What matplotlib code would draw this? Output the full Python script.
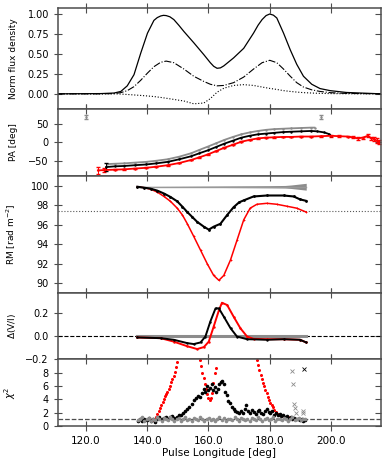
import numpy as np
import matplotlib
matplotlib.use("Agg")
import matplotlib.pyplot as plt

# ---- profile panel ----
lon_I = [110.8, 124.9, 129.2, 131.4, 133.5, 135.7, 137.9, 140.1, 142.2, 143.3, 144.4, 145.3,
         146.2, 147.4, 148.7, 150.3, 152.0, 155.2, 158.5, 160.6, 161.7, 162.8, 163.9, 165.0,
         168.2, 171.5, 174.7, 176.2, 177.5, 178.8, 180.0, 181.2, 182.3, 184.5, 186.7, 188.8,
         191.0, 193.7, 196.4, 199.7, 205.0, 216.3]
flux_I = [0, 0.003, 0.01, 0.03, 0.1, 0.24, 0.51, 0.76, 0.92, 0.955, 0.975, 0.983,
          0.98, 0.965, 0.93, 0.86, 0.78, 0.64, 0.49, 0.39, 0.345, 0.32, 0.325, 0.35,
          0.45, 0.57, 0.76, 0.86, 0.93, 0.98, 1.0, 0.985, 0.95, 0.76, 0.55, 0.37,
          0.22, 0.12, 0.066, 0.04, 0.017, 0.0]
lon_prof = [110.8, 124.9, 129.2, 131.4, 133.5, 135.7, 137.9, 140.1, 142.2, 144.4, 146.2, 148.7,
            152.0, 155.2, 158.5, 160.6, 162.8, 165.0, 168.2, 171.5, 174.7, 177.5, 180.0, 182.3,
            184.5, 186.7, 188.8, 191.0, 193.7, 196.4, 199.7, 205.0, 216.3]
flux_L = [0, 0.0, 0.003, 0.015, 0.04, 0.09, 0.17, 0.26, 0.34, 0.395, 0.41, 0.39,
          0.31, 0.22, 0.155, 0.12, 0.10, 0.105, 0.14, 0.21, 0.31, 0.39, 0.42, 0.39,
          0.31, 0.22, 0.14, 0.085, 0.05, 0.03, 0.015, 0.005, 0.0]
flux_V = [0, 0, 0, -0.003, -0.008, -0.014, -0.02, -0.027, -0.034, -0.045, -0.055, -0.07,
          -0.09, -0.125, -0.115, -0.06, 0.02, 0.07, 0.105, 0.115, 0.105, 0.085, 0.068, 0.055,
          0.04, 0.03, 0.022, 0.015, 0.01, 0.006, 0.003, 0.001, 0.0]

# ---- PA panel ----
lon_pa_k = [126.6, 129.5, 132.6, 136.0, 139.7, 143.0, 146.7, 150.5, 154.3, 157.0, 159.8, 162.5, 165.2,
            168.0, 170.7, 173.4, 176.1, 178.8, 181.5, 184.3, 187.0, 190.2, 193.5, 195.5, 197.8, 199.2, 200.0]
pa_k = [-66, -64, -63, -61, -59, -56, -52, -45, -37, -29, -21, -12, -3,
        5, 13, 18, 22, 24, 26, 28, 29, 30, 31, 30, 27, 23, 18]
lon_pa_g = [127.0, 129.5, 132.6, 136.0, 139.7, 143.0, 146.7, 150.5, 154.3, 157.0, 159.8, 162.5,
            165.2, 168.0, 170.7, 173.4, 176.1, 178.8, 181.5, 184.3, 187.0, 190.2, 193.5, 194.6]
pa_g = [-58, -57, -56, -54, -52, -49, -45, -38, -29, -20, -11, -2,
        7, 15, 22, 27, 31, 34, 36, 37, 38, 39, 40, 40]
lon_pa_r = [123.9, 126.0, 129.5, 132.6, 136.0, 139.7, 143.0, 146.7, 150.5, 154.3, 157.0, 159.8,
            162.5, 165.2, 168.0, 170.7, 173.4, 176.1, 178.8, 181.5, 184.3, 187.0, 190.2, 193.5,
            196.7, 200.0, 202.5, 205.4, 207.0, 208.7, 210.3, 212.0, 213.0, 214.0, 215.0, 215.7]
pa_r = [-75, -74, -73, -72, -70, -68, -65, -61, -55, -47, -40, -32,
        -23, -14, -6, 2, 7, 11, 13, 14, 15, 15, 16, 16,
        17, 18, 17, 16, 14, 11, 13, 18, 12, 9, 5, 2]
pa_r_err = [9, 6, 2, 1, 1, 1, 1, 1, 1, 1, 1, 1,
            1, 1, 1, 1, 1, 1, 1, 1, 1, 1, 1, 1,
            1, 2, 2, 2, 3, 3, 3, 4, 4, 5, 6, 6]
pa_outlier_lon = [120.0, 196.7]
pa_outlier = [69, 69]

# ---- RM panel ----
lon_rm_k = [136.8, 139.0, 141.1, 143.3, 145.5, 147.6, 149.8, 151.5, 153.1, 154.7, 156.3, 158.5, 160.1,
            161.7, 163.9, 166.1, 168.2, 170.0, 171.5, 174.7, 179.1, 184.5, 187.8, 189.9, 191.9]
rm_k = [99.9, 99.8, 99.7, 99.5, 99.2, 98.85, 98.4, 97.85, 97.3, 96.8, 96.3, 95.8, 95.5,
        95.8, 96.1, 97.0, 97.8, 98.3, 98.5, 98.9, 99.0, 99.0, 98.9, 98.6, 98.45]
lon_rm_r = [136.8, 139.0, 141.1, 143.3, 145.5, 147.6, 149.8, 151.5, 153.1, 155.2, 157.4, 159.6, 161.7,
            163.4, 165.0, 167.2, 169.3, 171.5, 173.6, 175.8, 179.1, 182.3, 185.6, 188.8, 191.9]
rm_r = [99.9, 99.8, 99.65, 99.35, 98.9, 98.4, 97.7, 97.0, 96.1, 94.8, 93.4, 92.0, 90.8,
        90.3, 90.8, 92.4, 94.4, 96.5, 97.7, 98.1, 98.2, 98.1, 97.9, 97.7, 97.3]
lon_rm_g = [136.8, 150.0, 160.0, 170.0, 180.0, 185.0, 187.0, 189.0, 191.0, 191.9]
rm_g = [99.9, 99.9, 99.9, 99.9, 99.9, 99.9, 99.9, 99.9, 99.9, 99.9]
rm_g_err = [0.03, 0.05, 0.07, 0.09, 0.11, 0.13, 0.18, 0.25, 0.32, 0.35]
rm_ref = 97.37

# ---- Delta V/I panel ----
lon_dv_r = [136.8, 144.4, 148.7, 153.1, 156.3, 158.5, 160.1, 161.7, 163.4, 164.4, 166.1, 168.2,
            170.4, 172.6, 174.7, 179.1, 184.5, 189.9, 191.9]
dv_r = [-0.014, -0.02, -0.05, -0.09, -0.114, -0.097, -0.05, 0.08, 0.22, 0.286, 0.266, 0.166,
        0.066, -0.006, -0.026, -0.029, -0.029, -0.034, -0.057]
lon_dv_k = [136.8, 144.4, 148.7, 153.1, 155.2, 157.4, 159.0, 160.6, 162.3, 163.4, 165.0, 167.2,
            169.3, 172.6, 179.1, 184.5, 189.9, 191.9]
dv_k = [-0.014, -0.02, -0.034, -0.063, -0.071, -0.057, -0.006, 0.123, 0.237, 0.237, 0.166, 0.066,
        -0.006, -0.029, -0.034, -0.029, -0.034, -0.057]
lon_dv_g = [136.8, 150.0, 165.0, 180.0, 191.9]
dv_g = [0.0, 0.0, 0.0, 0.0, 0.0]

# ---- chi^2 panel ----
lon_chi_r = [141.5, 142.2, 142.8, 143.3, 143.8, 144.2, 144.6, 145.0, 145.4, 145.8, 146.2, 146.6,
             147.0, 147.4, 147.8, 148.2, 148.6, 149.0, 149.4, 149.8,
             157.2, 157.6, 158.0, 158.4, 158.8, 159.2, 159.6, 160.0, 160.4, 160.8, 161.2, 161.6,
             162.0, 162.3,
             175.8, 176.2, 176.6, 177.0, 177.4, 177.8, 178.2, 178.6, 179.0, 179.4, 179.8, 180.2,
             180.6, 181.0, 181.5, 182.0, 182.6, 183.3, 184.0, 185.0, 186.0, 187.0, 188.0]
chi_r = [0.9, 1.1, 1.4, 1.8, 2.2, 2.7, 3.1, 3.6, 4.0, 4.5, 4.8, 5.2,
         5.6, 6.1, 6.6, 7.1, 7.6, 8.2, 8.9, 9.6,
         10.0, 9.0, 8.0, 7.2, 6.3, 5.6, 4.8, 4.2, 3.9, 4.2, 5.0, 6.5,
         8.0, 8.7,
         9.9, 9.2, 8.4, 7.7, 7.1, 6.5, 6.0, 5.4, 4.9, 4.4, 3.9, 3.5,
         3.1, 2.8, 2.4, 2.1, 1.8, 1.6, 1.5, 1.4, 1.3, 1.1, 1.0]
lon_chi_k = [137.0, 137.7, 138.4, 139.1, 139.8, 140.5, 141.2, 141.9, 142.6, 143.3, 144.0, 144.7,
             145.4, 146.1, 146.8, 147.5, 148.2, 148.9, 149.6, 150.3, 151.0, 151.7, 152.4, 153.1,
             153.8, 154.5, 155.2, 155.9, 156.6, 157.3, 157.9, 158.5, 159.0, 159.5, 160.0, 160.5,
             161.0, 161.5, 162.0, 162.5, 163.0, 163.5, 164.0, 164.5, 165.0, 165.5, 166.0, 166.5,
             167.0, 167.6, 168.2, 168.8, 169.4, 170.0, 170.6, 171.2, 171.8, 172.4, 173.0, 173.6,
             174.2, 174.8, 175.4, 176.0, 176.6, 177.2, 177.8, 178.4, 179.0, 179.6, 180.2, 180.8,
             181.4, 182.0, 182.6, 183.2, 183.8, 184.4, 185.0, 185.6, 186.2, 186.8, 187.4, 188.0,
             188.6, 189.2, 189.8, 190.4, 191.0, 191.6]
chi_k = [0.8, 1.0, 0.7, 1.1, 0.9, 1.2, 0.8, 1.0, 0.6, 1.1, 1.3, 1.0,
         1.2, 1.4, 1.1, 1.3, 1.5, 1.2, 1.4, 1.6, 1.7, 2.0, 2.2, 2.6,
         2.9, 3.3, 3.9, 4.2, 4.5, 4.4, 5.0, 5.6, 5.2, 6.0, 5.4, 5.8,
         6.3, 5.5, 5.9, 5.1, 5.6, 6.3, 6.6, 6.8, 6.4, 5.2, 4.6, 3.8,
         3.4, 2.9, 2.6, 2.3, 2.1, 1.9, 2.2, 2.0, 2.6, 3.1, 2.2, 1.9,
         2.4, 2.1, 1.8, 2.2, 2.4, 2.0, 1.8, 2.3, 2.5, 2.1, 1.9, 2.2,
         1.7, 1.9, 1.6, 1.8, 1.5, 1.7, 1.4, 1.5, 1.2, 1.3, 1.1, 1.2,
         1.0, 1.1, 0.9, 1.0, 0.8, 0.9]
chi_g = [0.9, 1.1, 1.3, 0.8, 1.0, 1.2, 0.7, 1.1, 0.9, 1.3, 1.0, 0.8,
         1.2, 1.1, 0.9, 1.4, 1.0, 0.8, 1.1, 1.2, 0.7, 1.0, 1.3, 0.9,
         1.1, 0.8, 1.2, 1.0, 0.9, 1.3, 1.1, 0.8, 1.0, 1.2, 0.9, 1.1,
         0.7, 1.0, 1.3, 0.9, 1.2, 0.8, 1.1, 1.0, 0.9, 1.3, 1.0, 0.8,
         1.2, 1.1, 0.9, 1.0, 0.7, 1.2, 1.1, 0.9, 1.3, 1.0, 0.8, 1.1,
         1.2, 0.9, 1.0, 1.4, 0.8, 1.1, 1.0, 0.9, 1.2, 1.0, 0.8, 1.1,
         1.3, 0.9, 1.0, 1.2, 0.9, 1.1, 1.0]
lon_chi_g = 137.0 + 0.7 * np.arange(len(chi_g))  # phase bins
lon_cross_g = [187.4, 187.6, 188.0, 188.2, 188.5, 190.7, 190.9]
chi_cross_g = [8.25, 6.4, 3.25, 2.75, 2.0, 2.25, 1.9]
lon_cross_k = [191.2]
chi_cross_k = [8.6]

RED = "#ff0000"
GRAY = "0.55"
SPINE = "0.3"

plt.rcParams["font.size"] = 7
fig = plt.figure(figsize=(3.9, 4.61), dpi=100)
gs = fig.add_gridspec(5, 1, height_ratios=[101, 67, 117, 66, 67], hspace=0,
                      left=58 / 390, right=381 / 390, top=1 - 8 / 461, bottom=1 - 426 / 461)
axes = [fig.add_subplot(gs[i]) for i in range(5)]
for a in axes[1:]:
    a.sharex(axes[0])

ax = axes[0]
ax.plot(lon_I, flux_I, color="k", lw=0.9)
ax.plot(lon_prof, flux_L, color="k", lw=0.8, ls="-.")
ax.plot(lon_prof, flux_V, color="k", lw=0.8, ls=":")
ax.set_ylim(-0.19, 1.075)
ax.set_yticks([0.0, 0.25, 0.5, 0.75, 1.0])
ax.set_yticklabels(["0.00", "0.25", "0.50", "0.75", "1.00"])
ax.set_ylabel("Norm flux density", fontsize=6.5)

ax = axes[1]
ax.errorbar(lon_pa_r, pa_r, yerr=pa_r_err, color=RED, lw=1.3, elinewidth=0.7, capsize=1.2,
            marker=".", ms=1.5)
ax.plot(lon_pa_g, pa_g, color=GRAY, lw=1.3, marker=".", ms=1.5)
ax.plot(lon_pa_k, pa_k, color="k", lw=1.3, marker=".", ms=1.5)
ax.errorbar([lon_pa_k[0]], [pa_k[0] + 1], yerr=[11], color="k", lw=0, elinewidth=0.7, capsize=1.2)
ax.errorbar(pa_outlier_lon, pa_outlier, yerr=[6, 6], color=GRAY, lw=0, elinewidth=0.7,
            capsize=1.2, marker=".", ms=1.5)
ax.set_ylim(-90, 90)
ax.set_yticks([-50, 0, 50])
ax.set_ylabel("PA [deg]", fontsize=6.5)

ax = axes[2]
ax.axhline(rm_ref, color="0.35", lw=0.8, ls=":")
ax.fill_between(lon_rm_g, np.array(rm_g) - np.array(rm_g_err), np.array(rm_g) + np.array(rm_g_err),
                color=GRAY, lw=0)
ax.plot(lon_rm_g, rm_g, color="0.6", lw=1.0)
ax.plot(lon_rm_r, rm_r, color=RED, lw=1.1, marker="+", ms=2, mew=0.6)
ax.plot(lon_rm_k, rm_k, color="k", lw=1.5, marker=".", ms=2)
ax.set_ylim(89, 101)
ax.set_yticks([90, 92, 94, 96, 98, 100])
ax.set_ylabel("RM [rad m$^{-2}$]", fontsize=6.5)

ax = axes[3]
ax.axhline(0, color="k", lw=0.8, ls="--")
ax.plot(lon_dv_g, dv_g, color=GRAY, lw=2.2)
ax.plot(lon_dv_r, dv_r, color=RED, lw=1.4, marker=".", ms=1.5)
ax.plot(lon_dv_k, dv_k, color="k", lw=1.4, marker=".", ms=1.5)
ax.set_ylim(-0.2, 0.37)
ax.set_yticks([-0.2, 0.0, 0.2])
ax.set_ylabel(r"$\Delta$(V/I)", fontsize=6.5)

ax = axes[4]
ax.axhline(1, color="0.3", lw=0.9, ls="--")
ax.plot(lon_chi_r, chi_r, ls="none", marker="o", ms=2.2, color=RED, mew=0)
ax.plot(lon_chi_k, chi_k, ls="none", marker="o", ms=2.6, color="k", mew=0)
ax.plot(lon_chi_g, chi_g, ls="none", marker="o", ms=2.6, color=GRAY, mew=0)
ax.plot(lon_cross_g, chi_cross_g, ls="none", marker="x", ms=2.5, mew=0.6, color=GRAY)
ax.plot(lon_cross_k, chi_cross_k, ls="none", marker="x", ms=2.5, mew=0.6, color="k")
ax.set_ylim(0, 10.1)
ax.set_yticks([0, 2, 4, 6, 8])
ax.set_ylabel(r"$\chi^2$", fontsize=7)
ax.set_xlabel("Pulse Longitude [deg]", fontsize=7.5, labelpad=2)

axes[0].set_xlim(110.9, 216.3)
axes[0].set_xticks([120, 140, 160, 180, 200])
axes[4].set_xticklabels(["120.0", "140.0", "160.0", "180.0", "200.0"])

for i, a in enumerate(axes):
    for s in a.spines.values():
        s.set_color(SPINE)
        s.set_linewidth(1.1)
    a.tick_params(axis="x", direction="inout", length=7, width=0.8, color=SPINE,
                  top=True, bottom=True, labelbottom=(i == 4), labelsize=7.5)
    a.tick_params(axis="y", direction="inout", length=6, width=0.8, color=SPINE, labelsize=7)
    sec = a.secondary_yaxis("right")
    sec.set_yticks(a.get_yticks())
    sec.tick_params(direction="in", length=4, width=0.8, color=SPINE, labelright=False)
    sec.spines["right"].set_visible(False)
    a.yaxis.set_label_coords(-0.125, 0.5)
    a.set_ylim(a.get_ylim())

fig.savefig("out.png", dpi=100)
